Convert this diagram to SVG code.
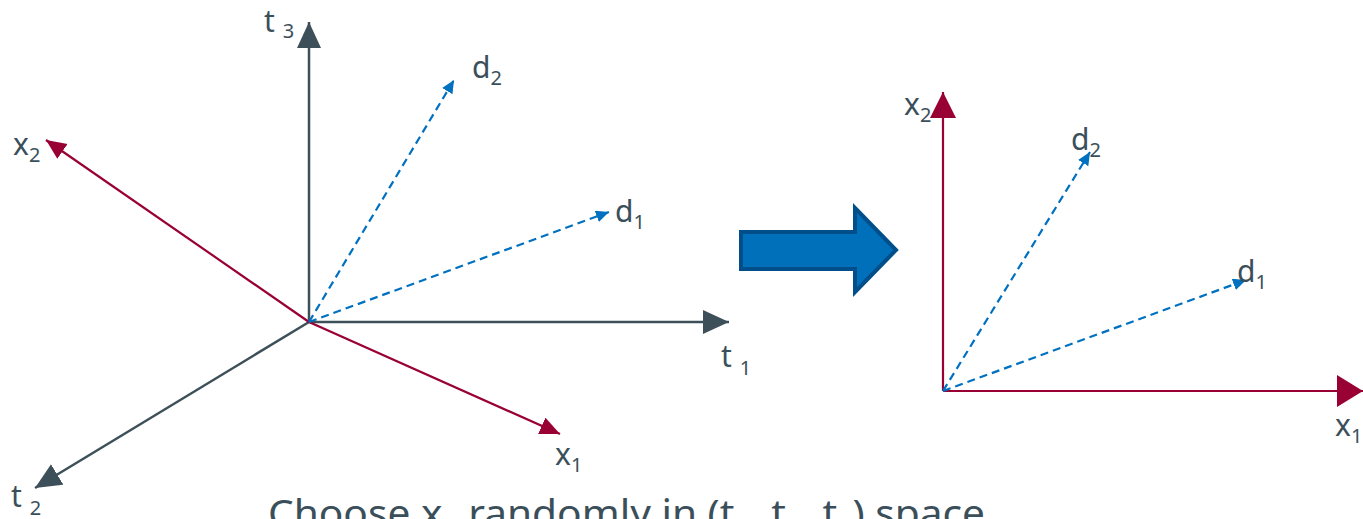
<svg xmlns="http://www.w3.org/2000/svg" width="1363" height="519" viewBox="0 0 1363 519">
<style>
.t{font-family:"Noto Sans","Open Sans",sans-serif;fill:#3B4F5A;font-size:30px}
.s{font-size:20px}
.ax{stroke:#3D5059;stroke-width:2.5;fill:none}
.rd{stroke:#990033;stroke-width:2.2;fill:none}
.bl{stroke:#0070C0;stroke-width:2.2;fill:none;stroke-dasharray:8 5}
.sub{font-size:25px}
</style>
<defs>
<marker id="mt" markerUnits="userSpaceOnUse" markerWidth="28" markerHeight="26" refX="26" refY="12" orient="auto"><path d="M0,0 L26,12 L0,24 Z" fill="#3D5059"/></marker>
<marker id="mrs" markerUnits="userSpaceOnUse" markerWidth="22" markerHeight="20" refX="20" refY="9" orient="auto"><path d="M0,0 L20,9 L0,18 Z" fill="#990033"/></marker>
<marker id="mrb" markerUnits="userSpaceOnUse" markerWidth="28" markerHeight="34" refX="26" refY="16" orient="auto"><path d="M0,0 L26,16 L0,32 Z" fill="#990033"/></marker>
<marker id="mrv" markerUnits="userSpaceOnUse" markerWidth="28" markerHeight="28" refX="26" refY="13" orient="auto"><path d="M0,0 L26,13 L0,26 Z" fill="#990033"/></marker>
<marker id="mb" markerUnits="userSpaceOnUse" markerWidth="14" markerHeight="13" refX="13" refY="6" orient="auto"><path d="M0,0 L13,6 L0,12 Z" fill="#0070C0"/></marker>
</defs>
<g id="connectors">
<line class="ax" x1="309" y1="322" x2="309" y2="22" marker-end="url(#mt)"/>
<line class="ax" x1="309" y1="322" x2="729" y2="322" marker-end="url(#mt)"/>
<line class="ax" x1="309" y1="322" x2="35" y2="488" marker-end="url(#mt)"/>
<line class="rd" x1="309" y1="322" x2="46" y2="140" marker-end="url(#mrs)"/>
<line class="rd" x1="309" y1="322" x2="560" y2="434" marker-end="url(#mrs)"/>
<line class="bl" x1="309" y1="322" x2="454" y2="80" marker-end="url(#mb)"/>
<line class="bl" x1="309" y1="322" x2="609" y2="212" marker-end="url(#mb)"/>
<line class="rd" x1="943" y1="391" x2="943" y2="92" marker-end="url(#mrv)"/>
<line class="rd" x1="943" y1="391" x2="1363" y2="391" marker-end="url(#mrb)"/>
<line class="bl" x1="943" y1="391" x2="1090" y2="152" marker-end="url(#mb)"/>
<line class="bl" x1="943" y1="391" x2="1246" y2="280" marker-end="url(#mb)"/>
</g>
<g id="block-arrow">
<polygon points="741,232 855,232 855,208 896,250 855,292 855,269 741,269" fill="#0070BA" stroke="#004F8A" stroke-width="4"/>
</g>
<g id="labels-left">
<text class="t" x="264" y="32">t <tspan class="s" dy="6">3</tspan></text>
<text class="t" x="472" y="78">d<tspan class="s" dy="7">2</tspan></text>
<text class="t" x="13" y="155">x<tspan class="s" dy="7">2</tspan></text>
<text class="t" x="615" y="222">d<tspan class="s" dy="7">1</tspan></text>
<text class="t" x="721" y="367">t <tspan class="s" dy="8">1</tspan></text>
<text class="t" x="555" y="465">x<tspan class="s" dy="7">1</tspan></text>
<text class="t" x="11" y="507">t <tspan class="s" dy="8">2</tspan></text>
</g>
<g id="labels-right">
<text class="t" x="904" y="115">x<tspan class="s" dy="7">2</tspan></text>
<text class="t" x="1071" y="150">d<tspan class="s" dy="7">2</tspan></text>
<text class="t" x="1237" y="282">d<tspan class="s" dy="7">1</tspan></text>
<text class="t" x="1335" y="436">x<tspan class="s" dy="7">1</tspan></text>
</g>
<g id="caption">
<text class="t" x="268" y="527" style="font-size:38px" textLength="717" lengthAdjust="spacingAndGlyphs">Choose x<tspan class="sub" dy="18">1</tspan><tspan dy="-18"> randomly in (t</tspan><tspan class="sub" dy="18">1</tspan><tspan dy="-18">, t</tspan><tspan class="sub" dy="18">2</tspan><tspan dy="-18">, t</tspan><tspan class="sub" dy="18">3</tspan><tspan dy="-18">) space</tspan></text>
</g>
</svg>
